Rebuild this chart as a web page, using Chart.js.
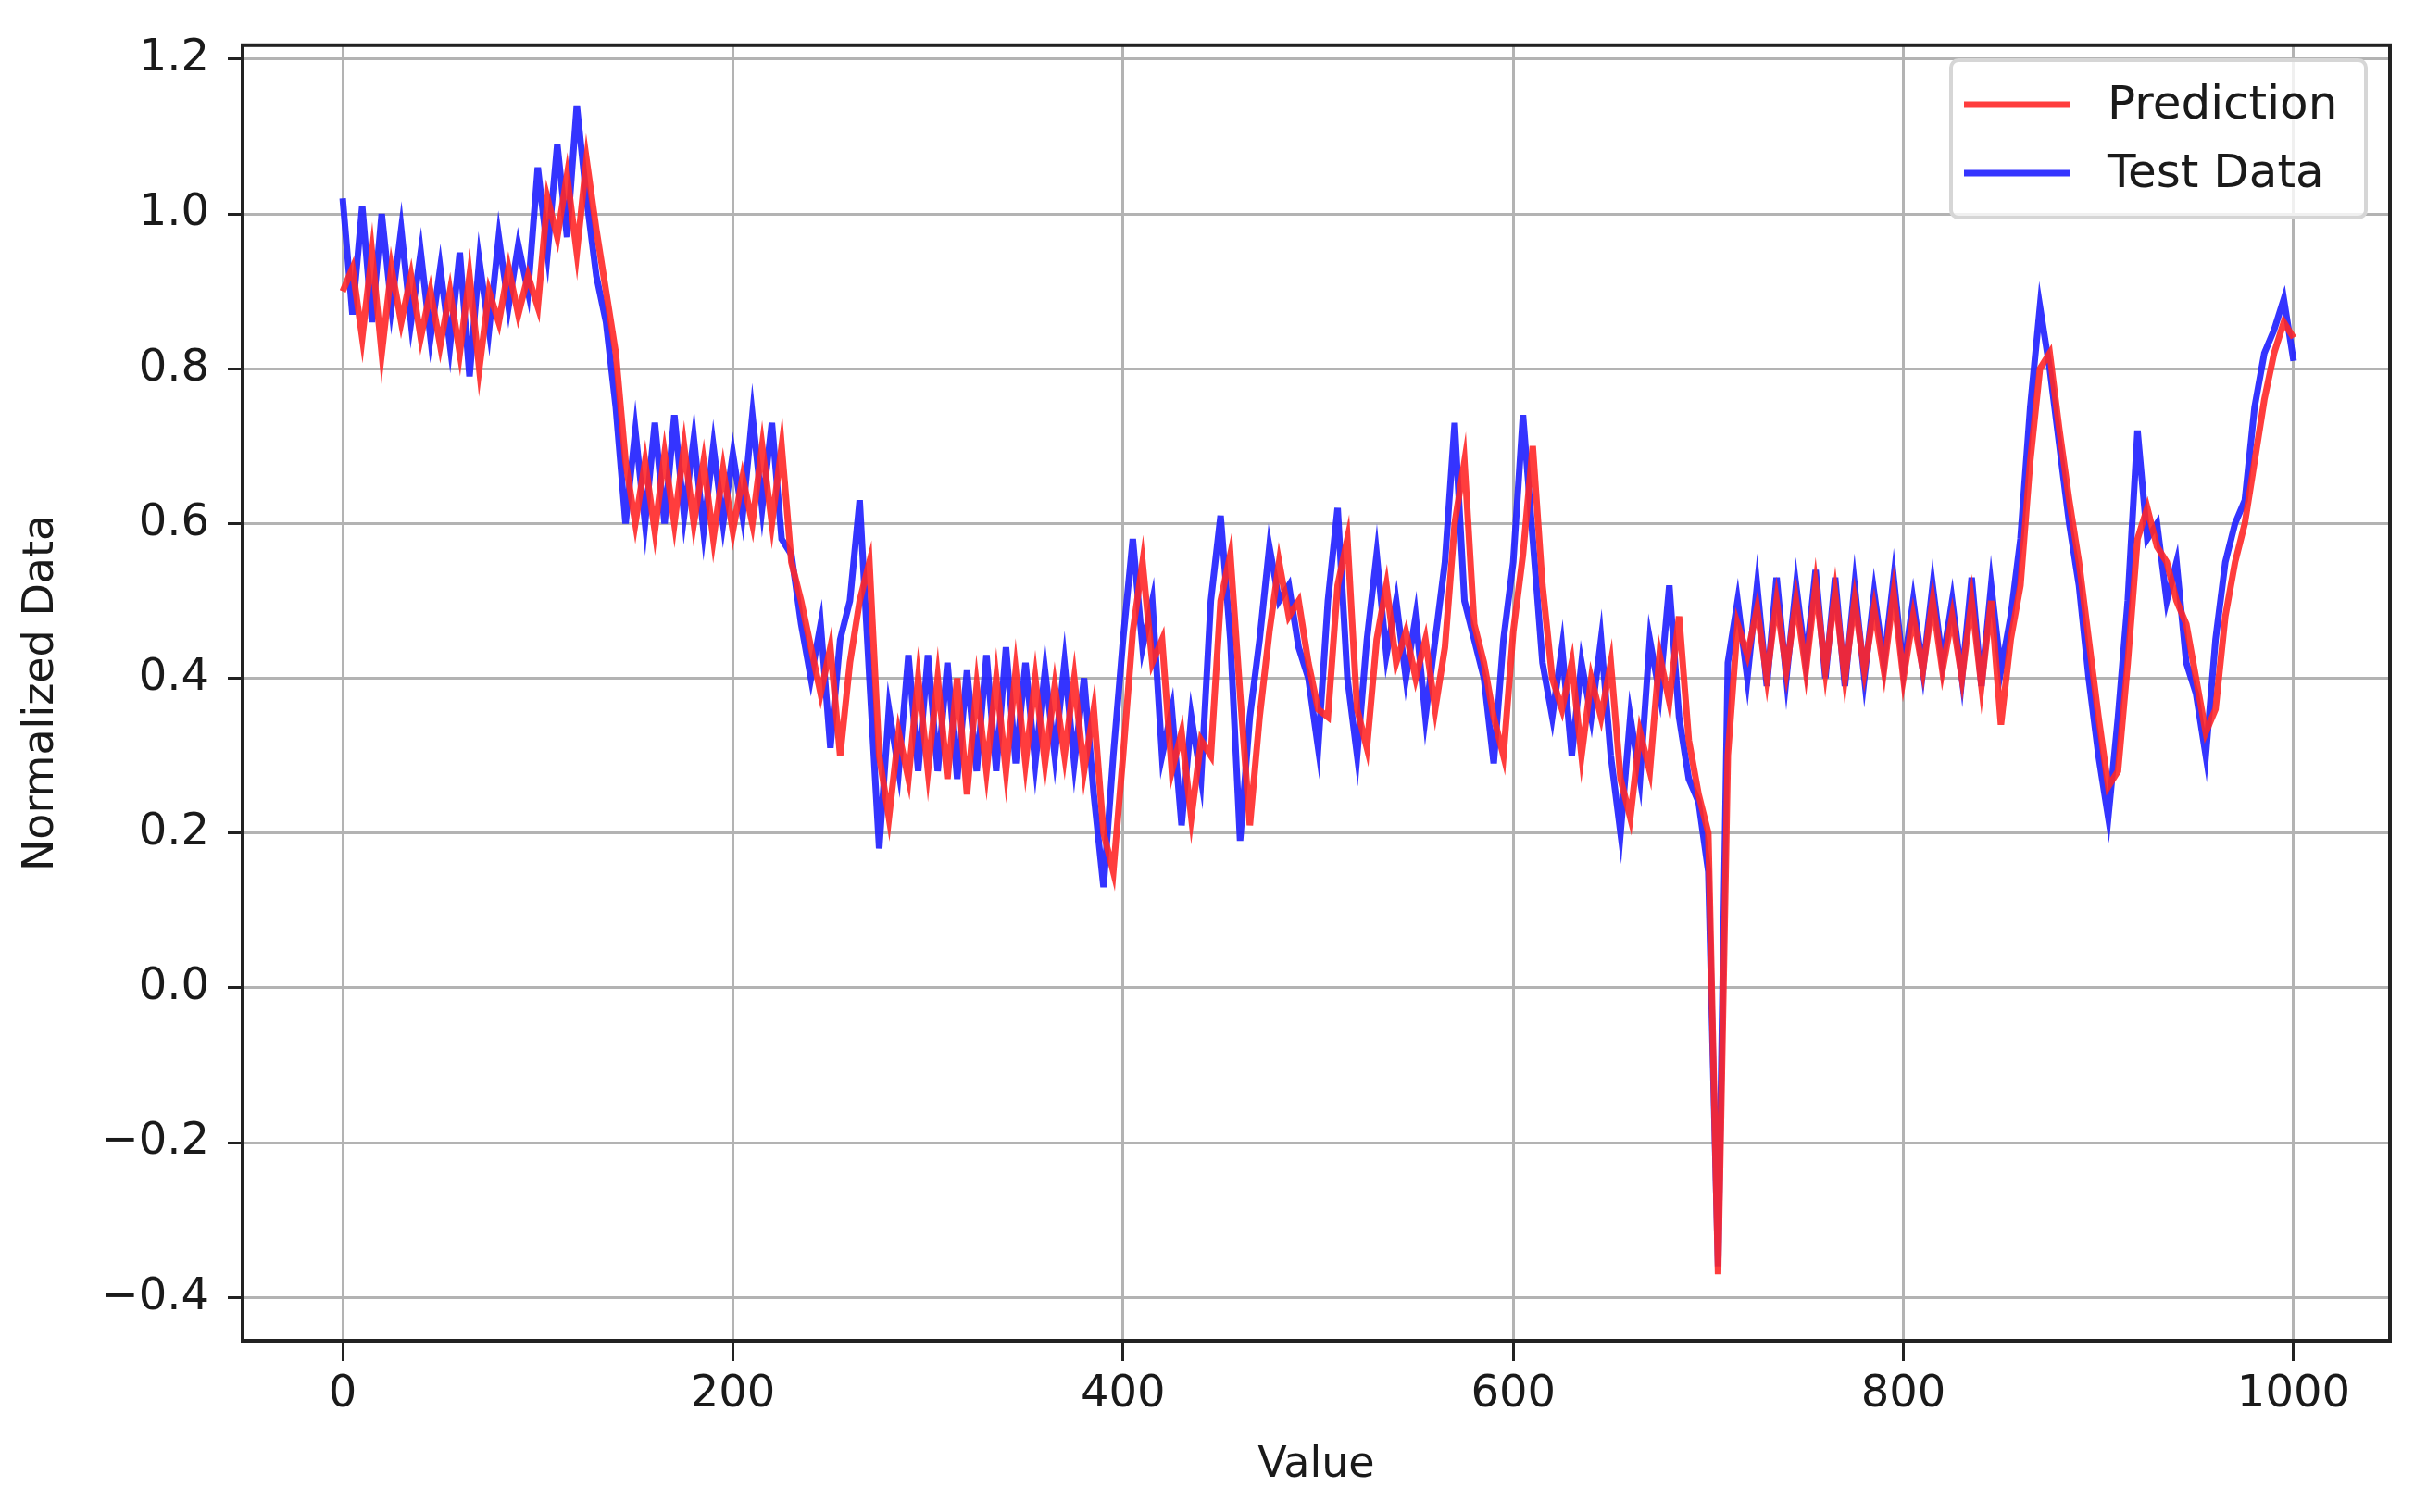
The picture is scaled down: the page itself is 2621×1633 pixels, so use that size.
<!DOCTYPE html>
<html>
<head>
<meta charset="utf-8">
<script src="https://cdn.jsdelivr.net/npm/chart.js@4.4.0/dist/chart.umd.min.js"></script>
<style>
  body { margin: 0; background: #fff; }
  canvas { display: block; }
</style>
</head>
<body>
<canvas id="chart" width="2621" height="1633"></canvas>
<script>
// sample positions (every 5 steps)
const xValues = Array.from({ length: 201 }, (_, i) => i * 5);

const testData = [
  1.02,0.87,1.01,0.86,1.0,0.88,0.98,0.86,0.95,0.84,
  0.93,0.83,0.95,0.79,0.94,0.85,0.97,0.88,0.96,0.9,
  1.06,0.95,1.09,0.97,1.14,1.02,0.92,0.86,0.75,0.6,
  0.72,0.6,0.73,0.6,0.74,0.61,0.71,0.59,0.7,0.6,
  0.69,0.61,0.74,0.62,0.73,0.58,0.56,0.47,0.4,0.47,
  0.31,0.45,0.5,0.63,0.4,0.18,0.36,0.28,0.43,0.28,
  0.43,0.28,0.42,0.27,0.41,0.28,0.43,0.28,0.44,0.29,
  0.42,0.29,0.41,0.3,0.42,0.29,0.4,0.25,0.13,0.3,
  0.45,0.58,0.44,0.5,0.3,0.36,0.21,0.35,0.27,0.5,
  0.61,0.45,0.19,0.35,0.45,0.57,0.5,0.52,0.44,0.4,
  0.31,0.5,0.62,0.4,0.3,0.45,0.56,0.43,0.5,0.4,
  0.48,0.35,0.45,0.55,0.73,0.5,0.45,0.4,0.29,0.45,
  0.55,0.74,0.58,0.42,0.35,0.44,0.3,0.42,0.35,0.45,
  0.3,0.2,0.35,0.27,0.45,0.38,0.52,0.35,0.27,0.24,
  0.15,-0.36,0.42,0.5,0.4,0.52,0.39,0.53,0.4,0.52,
  0.42,0.54,0.4,0.53,0.39,0.52,0.4,0.51,0.42,0.53,
  0.41,0.5,0.41,0.52,0.42,0.5,0.4,0.53,0.39,0.52,
  0.41,0.48,0.58,0.75,0.88,0.8,0.7,0.6,0.52,0.4,
  0.3,0.22,0.35,0.5,0.72,0.58,0.6,0.5,0.55,0.42,
  0.38,0.3,0.45,0.55,0.6,0.63,0.75,0.82,0.85,0.89,
  0.81
];

const predictionData = [
  0.9,0.93,0.84,0.95,0.82,0.93,0.86,0.92,0.84,0.9,
  0.83,0.9,0.82,0.92,0.8,0.9,0.86,0.93,0.87,0.92,
  0.88,1.02,0.97,1.05,0.95,1.07,0.98,0.9,0.82,0.68,
  0.6,0.68,0.59,0.69,0.6,0.7,0.6,0.68,0.58,0.67,
  0.59,0.66,0.6,0.7,0.6,0.7,0.55,0.5,0.44,0.38,
  0.44,0.3,0.42,0.5,0.55,0.3,0.22,0.33,0.27,0.4,
  0.28,0.4,0.27,0.4,0.25,0.39,0.28,0.4,0.28,0.41,
  0.29,0.4,0.29,0.39,0.3,0.4,0.28,0.36,0.2,0.15,
  0.3,0.46,0.55,0.42,0.45,0.28,0.33,0.22,0.32,0.3,
  0.5,0.56,0.38,0.21,0.35,0.46,0.55,0.48,0.5,0.42,
  0.36,0.35,0.52,0.58,0.36,0.31,0.45,0.52,0.42,0.46,
  0.4,0.45,0.36,0.44,0.6,0.68,0.47,0.42,0.35,0.3,
  0.46,0.56,0.7,0.52,0.4,0.36,0.42,0.3,0.4,0.35,
  0.42,0.27,0.22,0.33,0.28,0.43,0.37,0.48,0.32,0.25,
  0.2,-0.37,0.3,0.47,0.43,0.49,0.4,0.5,0.41,0.5,
  0.41,0.52,0.41,0.51,0.4,0.5,0.41,0.49,0.41,0.51,
  0.4,0.48,0.41,0.5,0.41,0.48,0.4,0.5,0.39,0.5,
  0.34,0.45,0.52,0.68,0.8,0.82,0.72,0.63,0.55,0.45,
  0.35,0.26,0.28,0.42,0.58,0.62,0.57,0.55,0.5,0.47,
  0.4,0.33,0.36,0.48,0.55,0.6,0.68,0.76,0.82,0.86,
  0.84
];

const xTicks = [0, 200, 400, 600, 800, 1000];
const yTicks = [-0.4, -0.2, 0.0, 0.2, 0.4, 0.6, 0.8, 1.0, 1.2];

const FONT = 'DejaVu Sans';
const TEXT = '#1a1a1a';

const toPoints = ys => ys.map((y, i) => ({ x: xValues[i], y: y }));

// frame, axis titles and the legend box
const decorPlugin = {
    id: 'decor',
    afterDraw(chart) {
        const { ctx, chartArea: a } = chart;
        ctx.save();
        ctx.strokeStyle = '#222';
        ctx.lineWidth = 4;
        ctx.strokeRect(a.left, a.top, a.right - a.left, a.bottom - a.top);

        ctx.fillStyle = TEXT;
        ctx.font = `46px "${FONT}"`;
        ctx.textAlign = 'center';
        ctx.textBaseline = 'middle';
        ctx.fillText('Value', (a.left + a.right) / 2, 1583);
        ctx.translate(45, (a.top + a.bottom) / 2);
        ctx.rotate(-Math.PI / 2);
        ctx.fillText('Normalized Data', 0, 0);
        ctx.restore();

        // legend
        ctx.save();
        const bx = 2107, by = 65, bw = 448, bh = 170;
        ctx.fillStyle = 'rgba(255,255,255,0.8)';
        ctx.strokeStyle = '#d6d6d6';
        ctx.lineWidth = 4;
        ctx.beginPath();
        ctx.roundRect(bx, by, bw, bh, 8);
        ctx.fill();
        ctx.stroke();
        const entries = [chart.data.datasets[0], chart.data.datasets[1]];
        const rowY = [113, 187];
        entries.forEach((ds, i) => {
            ctx.strokeStyle = ds.borderColor;
            ctx.lineWidth = 7;
            ctx.beginPath();
            ctx.moveTo(2121, rowY[i]);
            ctx.lineTo(2235, rowY[i]);
            ctx.stroke();
            ctx.fillStyle = TEXT;
            ctx.font = `50px "${FONT}"`;
            ctx.textAlign = 'left';
            ctx.textBaseline = 'middle';
            ctx.fillText(ds.label, 2276, rowY[i] + 2);
        });
        ctx.restore();
    }
};

new Chart(document.getElementById('chart').getContext('2d'), {
    type: 'line',
    data: {
        datasets: [
            {
                label: 'Prediction',
                data: toPoints(predictionData),
                borderColor: 'rgba(255, 40, 40, 0.9)',
                borderWidth: 7,
                pointRadius: 0,
                tension: 0
            },
            {
                label: 'Test Data',
                data: toPoints(testData),
                borderColor: 'rgba(30, 30, 255, 0.9)',
                borderWidth: 7,
                pointRadius: 0,
                tension: 0
            }
        ]
    },
    options: {
        responsive: false,
        devicePixelRatio: 1,
        animation: false,
        layout: { padding: { top: 40, right: 40, left: 0, bottom: 0 } },
        plugins: { legend: { display: false }, tooltip: { enabled: false } },
        scales: {
            x: {
                type: 'linear',
                min: -51.3,
                max: 1049.4,
                afterBuildTicks: axis => { axis.ticks = xTicks.map(v => ({ value: v })); },
                afterFit: axis => { axis.height = 185; },
                grid: { color: '#b3b3b3', lineWidth: 3, tickColor: '#222', tickLength: 22, tickWidth: 3 },
                border: { color: '#222', width: 4 },
                ticks: {
                    color: TEXT,
                    font: { family: FONT, size: 48 },
                    padding: 8,
                    maxRotation: 0,
                    callback: v => String(v)
                }
            },
            y: {
                min: -0.456,
                max: 1.218,
                afterBuildTicks: axis => { axis.ticks = yTicks.map(v => ({ value: v })); },
                afterFit: axis => { axis.width = 262; },
                grid: { color: '#b3b3b3', lineWidth: 3, tickColor: '#222', tickLength: 16, tickWidth: 3 },
                border: { color: '#222', width: 4 },
                ticks: {
                    color: TEXT,
                    font: { family: FONT, size: 48 },
                    padding: 20,
                    callback: v => (v < 0 ? '\u2212' : '') + Math.abs(v).toFixed(1)
                }
            }
        }
    },
    plugins: [decorPlugin]
});
</script>
</body>
</html>
